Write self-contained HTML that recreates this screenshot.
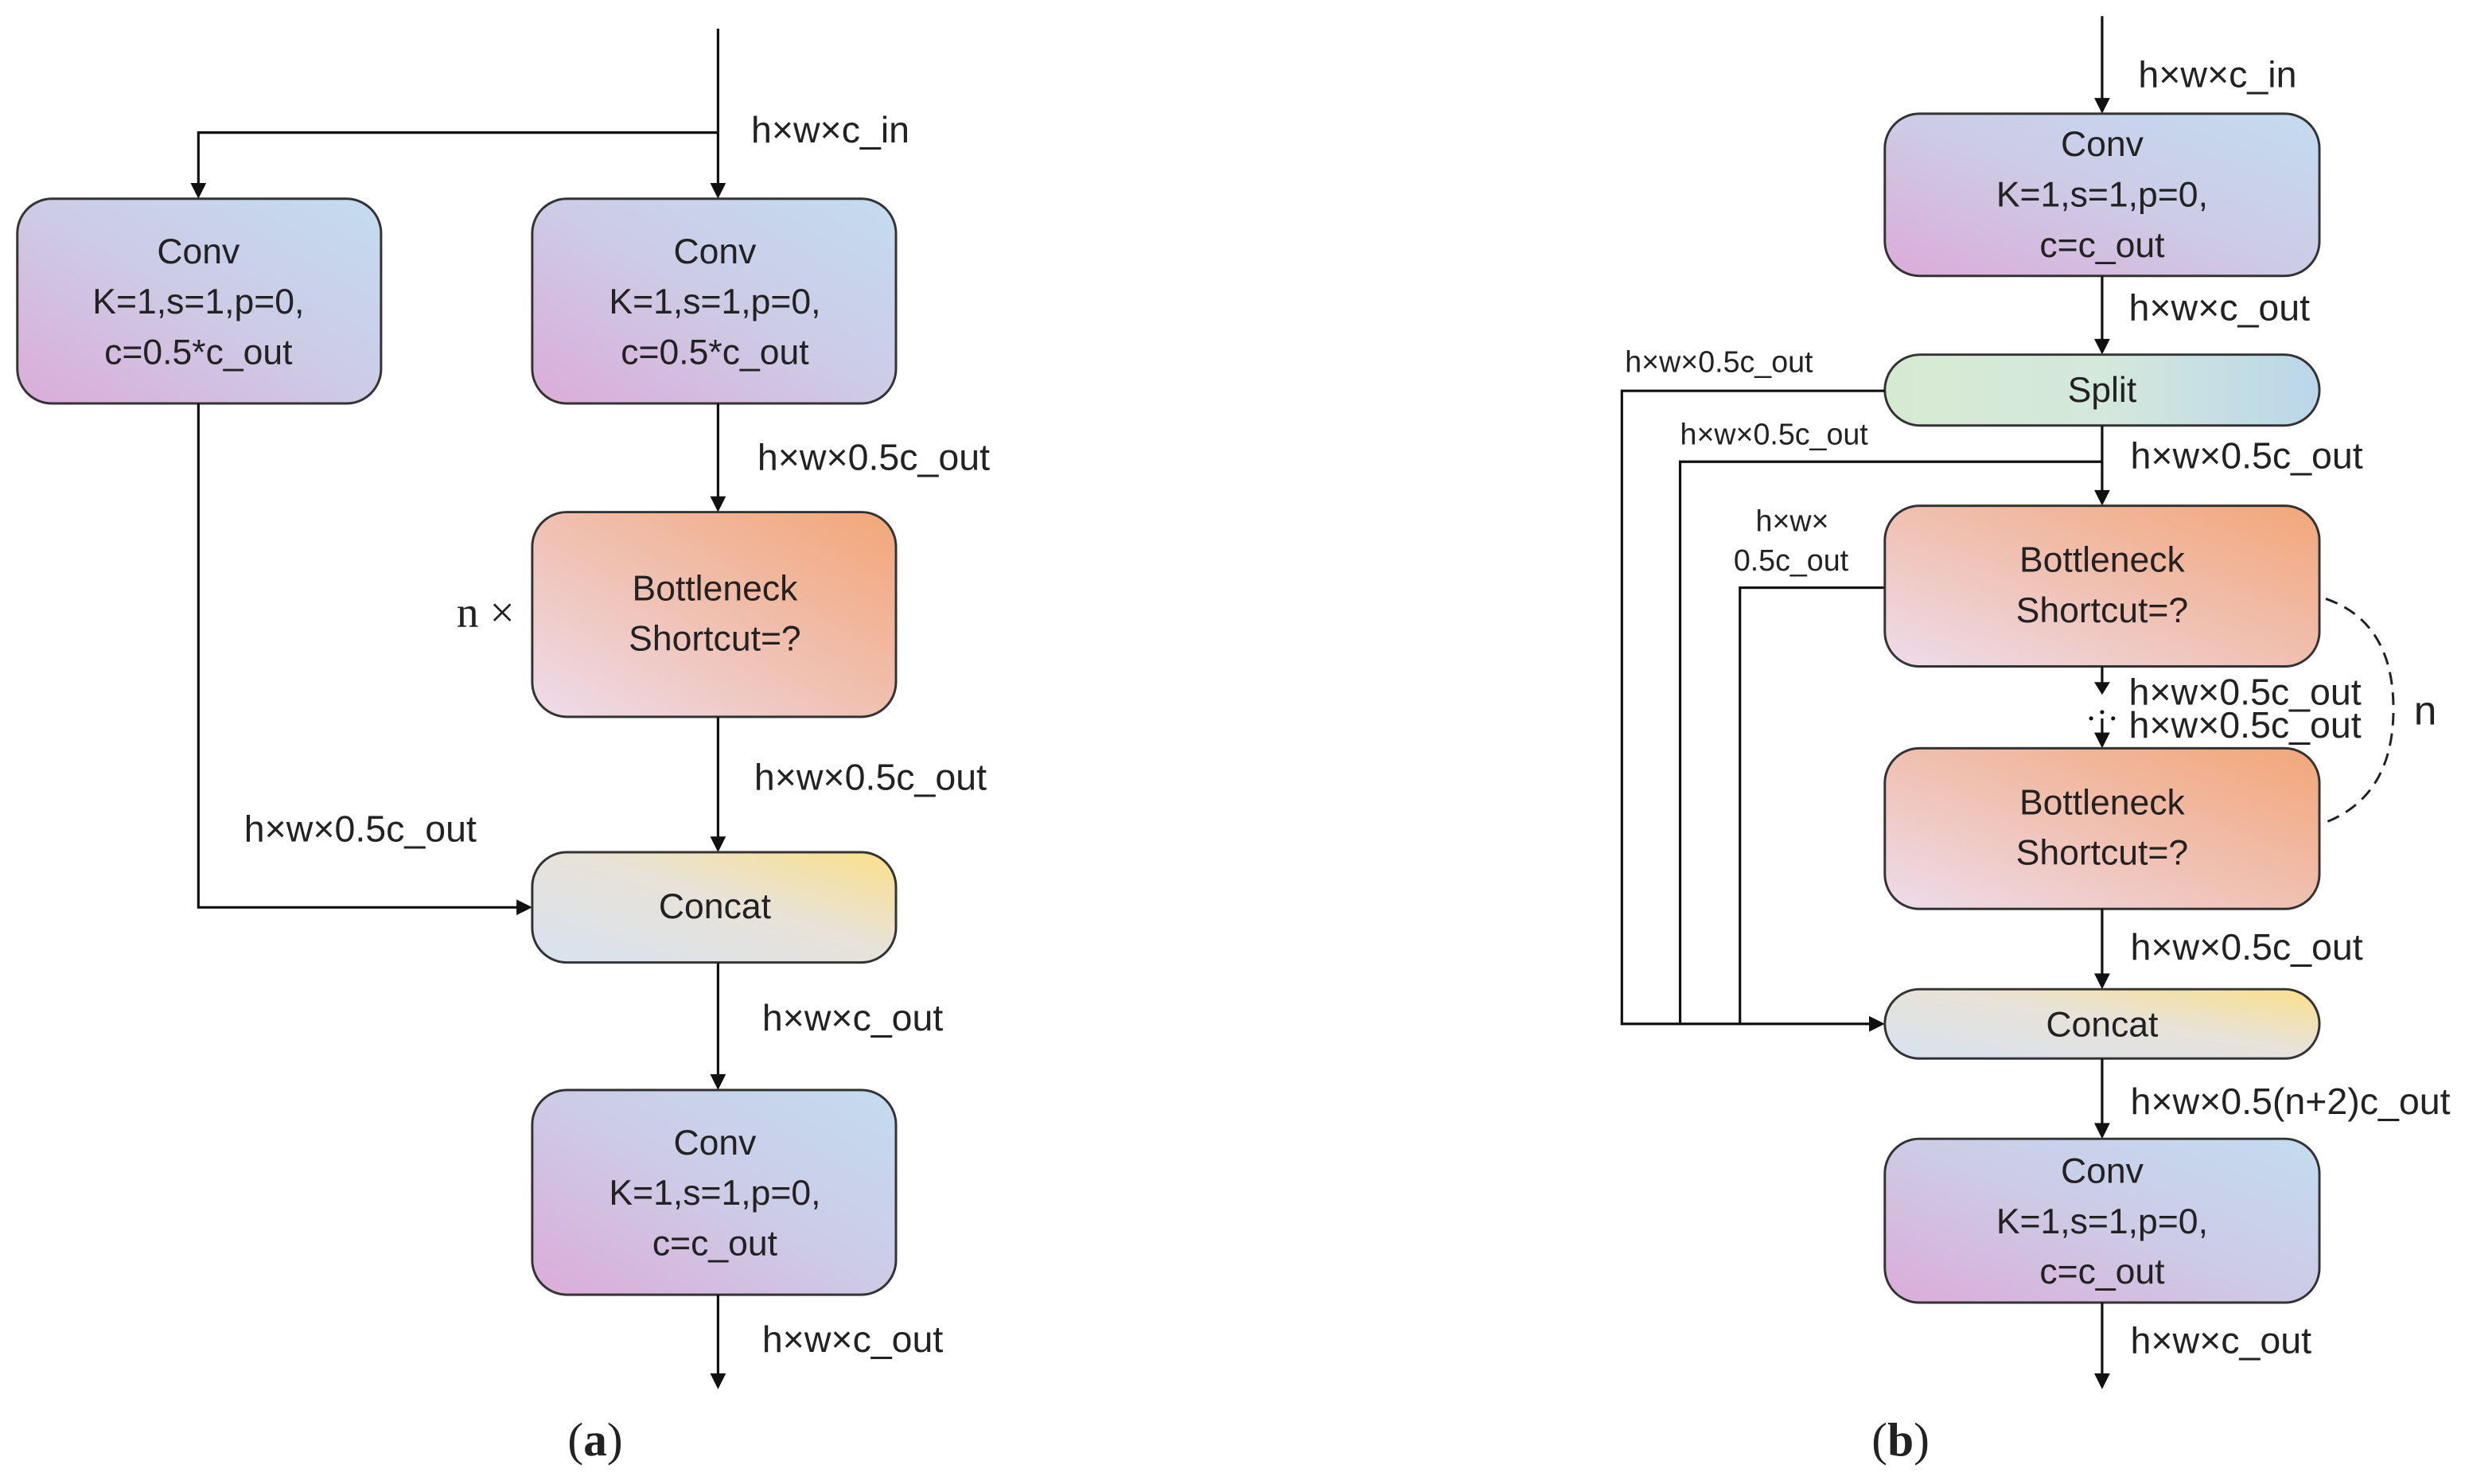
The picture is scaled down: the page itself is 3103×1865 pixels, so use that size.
<!DOCTYPE html>
<html><head><meta charset="utf-8"><style>html,body{margin:0;padding:0;background:#fff}svg{display:block}</style></head>
<body>
<svg width="3103" height="1865" viewBox="0 0 1568 942" xmlns="http://www.w3.org/2000/svg" font-family="'Liberation Sans', sans-serif" fill="#222">
<defs>
<linearGradient id="gc" x1="0" y1="1" x2="1" y2="0"><stop offset="0" stop-color="#dcacd8"/><stop offset="0.5" stop-color="#cdcbe6"/><stop offset="1" stop-color="#c3dcf0"/></linearGradient>
<linearGradient id="gb" x1="0" y1="1" x2="1" y2="0"><stop offset="0" stop-color="#eedcec"/><stop offset="0.5" stop-color="#f0c0b0"/><stop offset="1" stop-color="#f3a678"/></linearGradient>
<linearGradient id="gk" x1="0" y1="1" x2="1" y2="0"><stop offset="0" stop-color="#d8e2f0"/><stop offset="0.55" stop-color="#e8e2d8"/><stop offset="1" stop-color="#fbe08a"/></linearGradient>
<linearGradient id="gs" x1="0" y1="0" x2="1" y2="0"><stop offset="0" stop-color="#d6ead2"/><stop offset="0.5" stop-color="#d4e8dc"/><stop offset="1" stop-color="#bad6ea"/></linearGradient>
</defs>
<style>
.l{stroke:#111;stroke-width:1.6;fill:none}
.b{stroke:#333;stroke-width:1.5}
.t{font-size:22.5px;text-anchor:middle;dominant-baseline:middle}
.lb{font-size:23.5px;dominant-baseline:middle}
.s{font-size:19px;dominant-baseline:middle}
</style>
<g id="a">
<path class="l" d="M456,18 V118 M456,84 H126 V118"/>
<path d="M451,116 L461,116 L456,126 Z M121,116 L131,116 L126,126 Z" fill="#111"/>
<text class="lb" x="477" y="84">h×w×c_in</text>
<rect x="11" y="126" width="231" height="130" rx="22" fill="url(#gc)" class="b"/>
<text class="t" x="126" y="161">Conv</text><text class="t" x="126" y="193">K=1,s=1,p=0,</text><text class="t" x="126" y="225">c=0.5*c_out</text>
<rect x="338" y="126" width="231" height="130" rx="22" fill="url(#gc)" class="b"/>
<text class="t" x="454" y="161">Conv</text><text class="t" x="454" y="193">K=1,s=1,p=0,</text><text class="t" x="454" y="225">c=0.5*c_out</text>
<path class="l" d="M456,256 V317"/><path d="M451,315 L461,315 L456,325 Z" fill="#111"/>
<text class="lb" x="481" y="292">h×w×0.5c_out</text>
<rect x="338" y="325" width="231" height="130" rx="22" fill="url(#gb)" class="b"/>
<text class="t" x="454" y="375">Bottleneck</text><text class="t" x="454" y="407">Shortcut=?</text>
<text x="290" y="398" font-family="'Liberation Serif', serif" font-size="28">n ×</text>
<path class="l" d="M456,455 V533"/><path d="M451,531 L461,531 L456,541 Z" fill="#111"/>
<text class="lb" x="479" y="495">h×w×0.5c_out</text>
<path class="l" d="M126,256 V576 H330"/><path d="M328,571 L328,581 L338,576 Z" fill="#111"/>
<text class="lb" x="155" y="528">h×w×0.5c_out</text>
<rect x="338" y="541" width="231" height="70" rx="22" fill="url(#gk)" class="b"/>
<text class="t" x="454" y="577">Concat</text>
<path class="l" d="M456,611 V684"/><path d="M451,682 L461,682 L456,692 Z" fill="#111"/>
<text class="lb" x="484" y="648">h×w×c_out</text>
<rect x="338" y="692" width="231" height="130" rx="22" fill="url(#gc)" class="b"/>
<text class="t" x="454" y="727">Conv</text><text class="t" x="454" y="759">K=1,s=1,p=0,</text><text class="t" x="454" y="791">c=c_out</text>
<path class="l" d="M456,822 V874"/><path d="M451,872 L461,872 L456,882 Z" fill="#111"/>
<text class="lb" x="484" y="852">h×w×c_out</text>
<text x="378" y="924" font-family="'Liberation Serif', serif" font-size="30" text-anchor="middle">(<tspan font-weight="bold">a</tspan>)</text>
</g>
<g id="b">
<path class="l" d="M1335,10 V64"/><path d="M1330,62 L1340,62 L1335,72 Z" fill="#111"/>
<text class="lb" x="1358" y="49">h×w×c_in</text>
<rect x="1197" y="72" width="276" height="103" rx="22" fill="url(#gc)" class="b"/>
<text class="t" x="1335" y="93">Conv</text><text class="t" x="1335" y="125">K=1,s=1,p=0,</text><text class="t" x="1335" y="157">c=c_out</text>
<path class="l" d="M1335,175 V217"/><path d="M1330,215 L1340,215 L1335,225 Z" fill="#111"/>
<text class="lb" x="1352" y="197">h×w×c_out</text>
<rect x="1197" y="225" width="276" height="45" rx="22.5" fill="url(#gs)" class="b"/>
<text class="t" x="1335" y="249">Split</text>
<path class="l" d="M1197,248 H1030 V650 H1189 M1335,270 V313 M1335,293 H1067 V650 M1197,373 H1105 V650"/>
<path d="M1330,311 L1340,311 L1335,321 Z M1187,645 L1187,655 L1197,650 Z" fill="#111"/>
<text class="s" x="1032" y="231">h×w×0.5c_out</text>
<text class="s" x="1067" y="277">h×w×0.5c_out</text>
<text class="lb" x="1353" y="291">h×w×0.5c_out</text>
<text class="s" x="1115" y="332">h×w×</text>
<text class="s" x="1101" y="357">0.5c_out</text>
<rect x="1197" y="321" width="276" height="102" rx="22" fill="url(#gb)" class="b"/>
<text class="t" x="1335" y="357">Bottleneck</text><text class="t" x="1335" y="389">Shortcut=?</text>
<path class="l" d="M1335,423 V434 M1335,456 V467"/>
<path d="M1330,433 L1340,433 L1335,441 Z M1330,465 L1340,465 L1335,475 Z" fill="#111"/>
<circle cx="1328" cy="456" r="1.3" fill="#111"/><circle cx="1342" cy="456" r="1.3" fill="#111"/><circle cx="1335" cy="452" r="1.3" fill="#111"/>
<text class="lb" x="1352" y="441">h×w×0.5c_out</text>
<text class="lb" x="1352" y="462">h×w×0.5c_out</text>
<rect x="1197" y="475" width="276" height="102" rx="22" fill="url(#gb)" class="b"/>
<text class="t" x="1335" y="511">Bottleneck</text><text class="t" x="1335" y="543">Shortcut=?</text>
<path d="M1477,380 Q1520,395 1520,450 Q1520,505 1477,522" fill="none" stroke="#222" stroke-width="1.5" stroke-dasharray="8,5"/>
<text x="1533" y="460" font-size="26">n</text>
<path class="l" d="M1335,577 V620"/><path d="M1330,618 L1340,618 L1335,628 Z" fill="#111"/>
<text class="lb" x="1353" y="603">h×w×0.5c_out</text>
<rect x="1197" y="628" width="276" height="44" rx="22" fill="url(#gk)" class="b"/>
<text class="t" x="1335" y="652">Concat</text>
<path class="l" d="M1335,672 V715"/><path d="M1330,713 L1340,713 L1335,723 Z" fill="#111"/>
<text class="lb" x="1353" y="701">h×w×0.5(n+2)c_out</text>
<rect x="1197" y="723" width="276" height="104" rx="22" fill="url(#gc)" class="b"/>
<text class="t" x="1335" y="745">Conv</text><text class="t" x="1335" y="777">K=1,s=1,p=0,</text><text class="t" x="1335" y="809">c=c_out</text>
<path class="l" d="M1335,827 V874"/><path d="M1330,872 L1340,872 L1335,882 Z" fill="#111"/>
<text class="lb" x="1353" y="853">h×w×c_out</text>
<text x="1207" y="924" font-family="'Liberation Serif', serif" font-size="30" text-anchor="middle">(<tspan font-weight="bold">b</tspan>)</text>
</g>
</svg>
</body></html>
